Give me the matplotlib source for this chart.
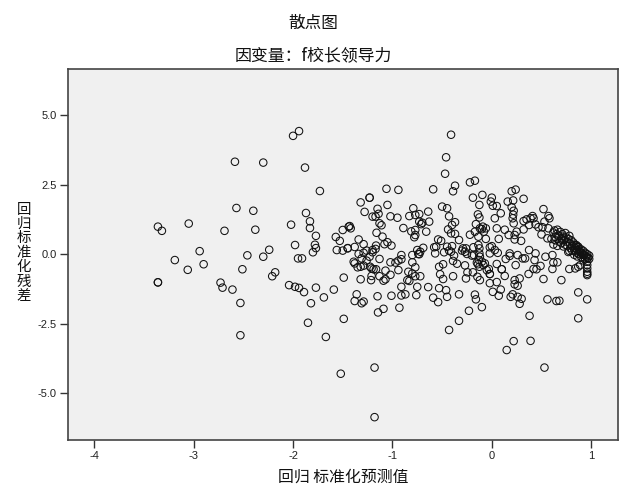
import matplotlib
matplotlib.use('Agg')
from matplotlib import pyplot as plt

plt.rcParams['font.family'] = ['Liberation Sans', 'DejaVu Sans']
plt.rcParams['axes.unicode_minus'] = False

# (predicted, residual), going roughly left to right
points = [
    (-3.36,0.99),(-3.32,0.84),(-3.36,-1.01),(-3.36,-1.01),(-3.19,-0.21),(-3.06,-0.56),(-3.05,1.10),
    (-2.94,0.11),(-2.90,-0.36),(-2.73,-1.02),(-2.71,-1.20),(-2.69,0.84),(-2.61,-1.27),(-2.585,3.32),
    (-2.57,1.66),(-2.53,-1.75),(-2.53,-2.91),(-2.51,-0.54),(-2.46,-0.04),(-2.40,1.56),(-2.38,0.88),
    (-2.30,3.29),(-2.30,-0.09),(-2.24,0.16),(-2.21,-0.79),(-2.18,-0.65),(-2.04,-1.11),(-2.02,1.06),
    (-2.00,4.25),(-1.98,0.33),(-1.98,-1.17),(-1.95,-0.15),(-1.94,4.42),(-1.94,-1.21),(-1.91,-0.15),
    (-1.89,-1.36),(-1.88,3.11),(-1.87,1.48),(-1.85,-2.46),(-1.83,1.18),(-1.83,0.94),(-1.82,-1.76),
    (-1.80,0.07),(-1.78,0.34),(-1.77,0.66),(-1.77,0.22),(-1.77,-1.20),(-1.73,2.27),(-1.69,-1.55),
    (-1.67,-2.97),(-1.59,-1.27),(-1.57,0.62),(-1.56,0.15),(-1.53,0.48),(-1.52,-4.29),(-1.50,0.87),
    (-1.50,0.13),(-1.49,-0.84),(-1.49,-2.32),(-1.45,0.22),(-1.45,0.21),(-1.44,0.99),(-1.43,1.01),
    (-1.42,0.93),(-1.39,-0.27),(-1.38,-0.33),(-1.38,0.26),(-1.38,-1.68),(-1.36,-1.44),(-1.35,-0.47),
    (-1.34,0.53),(-1.34,0.01),(-1.32,1.86),(-1.32,-0.45),(-1.32,-0.90),(-1.31,-0.15),(-1.31,-1.76),
    (-1.29,0.36),(-1.29,0.05),(-1.29,-0.41),(-1.29,-1.70),(-1.28,1.52),(-1.26,0.13),(-1.26,-0.23),
    (-1.23,2.03),(-1.23,2.03),(-1.23,-0.09),(-1.225,-0.45),(-1.215,-0.93),(-1.21,-0.51),(-1.21,-0.78),
    (-1.20,1.35),(-1.20,0.15),(-1.20,0.07),(-1.19,-0.54),(-1.18,-4.07),(-1.18,-5.85),(-1.17,1.35),
    (-1.17,0.19),(-1.165,0.31),(-1.165,-0.54),(-1.16,0.77),(-1.15,1.63),(-1.15,-1.51),(-1.145,-2.09),
    (-1.14,1.45),(-1.13,1.11),(-1.13,-0.17),(-1.13,-0.79),(-1.11,1.04),(-1.10,0.63),(-1.09,-0.95),
    (-1.09,-1.96),(-1.08,0.36),(-1.07,-0.59),(-1.07,-0.90),(-1.06,2.35),(-1.05,1.77),(-1.05,0.43),
    (-1.02,1.36),(-1.02,-0.29),(-1.02,-0.74),(-1.01,0.31),(-1.01,-1.49),(-0.97,-0.30),(-0.95,1.31),
    (-0.94,2.31),(-0.94,-0.23),(-0.94,-0.57),(-0.93,-1.92),(-0.91,-0.03),(-0.91,-0.18),(-0.91,-1.17),
    (-0.91,-1.48),(-0.89,0.94),(-0.87,-1.44),(-0.85,-0.93),(-0.84,-0.63),(-0.83,1.37),(-0.83,-0.96),
    (-0.81,0.82),(-0.80,-0.03),(-0.80,-0.29),(-0.80,-0.69),(-0.79,1.65),(-0.78,0.61),(-0.77,1.41),
    (-0.77,0.87),(-0.77,0.69),(-0.77,-0.47),(-0.77,-0.79),(-0.76,-1.47),(-0.75,0.15),(-0.75,-1.17),
    (-0.74,0.01),(-0.73,1.44),(-0.73,1.17),(-0.73,0.0),(-0.72,0.09),(-0.72,-0.79),(-0.71,1.08),
    (-0.70,1.13),(-0.69,0.23),(-0.66,0.81),(-0.64,1.53),(-0.64,-1.18),(-0.63,1.17),(-0.59,2.33),
    (-0.59,-1.56),(-0.58,0.25),(-0.57,0.03),(-0.56,0.27),(-0.54,0.53),(-0.54,-1.72),(-0.53,-0.45),
    (-0.53,-1.22),(-0.52,-0.72),(-0.51,0.48),(-0.50,1.71),(-0.49,-0.36),(-0.49,-0.89),(-0.48,0.07),
    (-0.47,2.89),(-0.46,3.48),(-0.46,-1.29),(-0.45,1.65),(-0.45,0.27),(-0.45,-1.53),(-0.44,0.89),
    (-0.43,1.36),(-0.43,0.13),(-0.43,-2.72),(-0.41,4.29),(-0.41,0.75),(-0.41,0.09),(-0.40,1.05),
    (-0.40,0.29),(-0.39,2.26),(-0.39,-0.24),(-0.39,-0.79),(-0.38,-0.05),(-0.37,2.46),(-0.37,1.15),
    (-0.37,0.73),(-0.35,-0.34),(-0.33,0.51),(-0.33,-1.44),(-0.33,-2.39),(-0.30,0.13),(-0.29,0.21),
    (-0.27,0.09),(-0.27,-0.40),(-0.26,0.21),(-0.26,-0.87),(-0.25,0.01),(-0.245,-0.65),(-0.23,-2.03),
    (-0.22,2.58),(-0.22,0.70),(-0.20,-0.05),(-0.19,2.03),(-0.19,-0.65),(-0.185,0.25),(-0.18,-0.03),
    (-0.17,2.64),(-0.17,0.81),(-0.17,-1.45),(-0.16,1.08),(-0.16,-1.62),(-0.15,-0.30),(-0.145,-0.81),
    (-0.14,1.43),(-0.14,-0.36),(-0.135,0.63),(-0.135,0.33),(-0.13,-0.21),(-0.125,1.77),(-0.125,1.32),
    (-0.125,0.21),(-0.125,0.03),(-0.125,-0.45),(-0.12,0.93),(-0.12,-0.09),(-0.12,-0.93),(-0.10,0.90),
    (-0.10,-0.27),(-0.10,-1.90),(-0.095,2.13),(-0.09,0.99),(-0.085,-0.39),(-0.08,0.81),(-0.07,-0.33),
    (-0.06,0.93),(-0.06,0.55),(-0.05,-0.57),(-0.03,-0.53),(-0.02,0.25),(-0.02,0.03),(-0.02,-0.71),
    (-0.02,-0.71),(-0.02,-1.04),(-0.01,1.89),(0.0,2.03),(0.0,0.29),(0.01,1.74),(0.01,-1.35),
    (0.03,1.29),(0.03,0.15),(0.05,1.73),(0.05,0.93),(0.05,-0.35),(0.05,-1.00),(0.06,0.05),
    (0.07,0.55),(0.07,-1.49),(0.09,1.47),(0.09,-1.27),(0.10,-0.54),(0.10,-0.54),(0.13,0.88),
    (0.13,-0.78),(0.14,-0.17),(0.15,-3.44),(0.16,1.89),(0.17,0.69),(0.18,0.03),(0.18,-0.06),
    (0.19,-1.53),(0.20,2.26),(0.20,1.69),(0.21,1.29),(0.21,-1.44),(0.215,1.93),(0.215,1.42),
    (0.22,1.56),(0.22,1.11),(0.22,-3.12),(0.23,0.69),(0.23,0.53),(0.23,-0.93),(0.23,-1.08),
    (0.24,2.32),(0.24,-0.39),(0.25,0.81),(0.26,-0.03),(0.26,-1.13),(0.26,-1.53),(0.28,-0.87),
    (0.28,-1.78),(0.295,0.48),(0.30,-1.60),(0.31,-0.15),(0.32,1.99),(0.32,1.19),(0.32,0.89),
    (0.335,-0.15),(0.35,1.25),(0.37,-0.71),(0.375,1.05),(0.375,0.15),(0.38,-2.21),(0.39,1.29),
    (0.39,-3.11),(0.41,1.37),(0.42,1.29),(0.42,-0.53),(0.43,-0.21),(0.44,1.07),(0.44,0.03),
    (0.45,-0.54),(0.47,0.97),(0.49,-0.42),(0.50,0.71),(0.51,0.97),(0.52,1.62),(0.52,-0.89),
    (0.53,1.17),(0.53,-4.07),(0.54,-0.09),(0.56,0.57),(0.56,-1.62),(0.57,1.37),(0.57,0.93),
    (0.58,1.29),(0.60,0.55),(0.61,-0.03),(0.61,-0.53),(0.62,0.78),(0.62,0.35),(0.62,-0.30),
    (0.63,0.85),(0.64,0.62),(0.65,0.72),(0.65,-1.68),(0.66,0.88),(0.66,0.30),(0.66,-0.29),
    (0.67,0.66),(0.68,-1.67),(0.69,0.80),(0.70,0.58),(0.70,0.40),(0.70,-0.93),(0.71,0.72),
    (0.72,0.63),(0.72,0.28),(0.73,0.50),(0.74,0.76),(0.75,0.60),(0.76,0.44),(0.77,0.55),
    (0.77,0.08),(0.78,0.66),(0.78,0.12),(0.78,-0.53),(0.79,0.38),(0.80,0.50),(0.81,0.29),
    (0.82,0.42),(0.83,0.34),(0.83,-0.02),(0.84,0.22),(0.84,-0.51),(0.85,0.33),(0.85,0.30),
    (0.86,0.14),(0.86,0.26),(0.86,-0.08),(0.87,0.27),(0.87,-0.45),(0.87,-1.37),(0.87,-2.30),
    (0.88,0.19),(0.88,0.10),(0.88,0.0),(0.89,0.07),(0.89,-0.39),(0.90,0.17),(0.90,0.05),
    (0.91,0.02),(0.92,0.12),(0.92,-0.02),(0.93,-0.03),(0.94,0.05),(0.95,-0.08),(0.96,0.0),
    (0.96,-0.15),(0.96,-0.27),(0.96,-0.39),(0.96,-0.51),(0.96,-0.63),(0.96,-0.75),(0.96,-1.62),
    (0.97,-0.12),(0.98,-0.05),(0.98,-0.17),
    # thicker part of the tail
    (0.64,0.50),(0.68,0.45),(0.71,0.52),(0.74,0.34),(0.76,0.30),(0.79,0.22),(0.81,0.12),
    (0.83,0.15),(0.85,0.06),(0.87,0.02),(0.90,-0.10),(0.92,-0.22),(0.94,-0.18),(0.96,-0.70),
]
x_vals = [p[0] for p in points]
y_vals = [p[1] for p in points]

x_ticks = [-4, -3, -2, -1, 0, 1]
y_ticks = [-5.0, -2.5, 0.0, 2.5, 5.0]
title = '散点图'
subtitle = '因变量：f校长领导力'
x_label = '回归 标准化预测值'
y_label = '回归标准化残差'

cjk = ['Noto Sans CJK SC', 'DejaVu Sans']

fig = plt.figure(figsize=(6.26, 5.01), dpi=100)
ax = fig.add_axes([67.5/626, 61/501, 550.5/626, 371/501])
ax.set_facecolor('#f0f0f0')
ax.scatter(x_vals, y_vals, s=29, facecolors='none', edgecolors='#111111', linewidths=0.75, clip_on=False)

ax.set_xlim(-4.27, 1.27)
ax.set_ylim(-6.67, 6.65)
ax.set_xticks(x_ticks)
ax.set_xticklabels([str(t) for t in x_ticks])
ax.set_yticks(y_ticks)
ax.set_yticklabels(['%.1f' % t for t in y_ticks])
ax.tick_params(direction='out', length=6, width=1, color='#333333', labelsize=8, labelcolor='#222222', pad=2)
for side in ax.spines:
    ax.spines[side].set_color('#444444')
    ax.spines[side].set_linewidth(1.2)

fig.text(313/626, 1-23/501, title, family=cjk, fontsize=12, ha='center', va='center', color='#111111')
fig.text(313/626, 1-55/501, subtitle, family=cjk, fontsize=12.2, ha='center', va='center', color='#111111')
fig.text(343/626, 1-477/501, x_label, family=cjk, fontsize=11.4, ha='center', va='center', color='#111111')
# the y label is stacked upright, one character at a time
for i, ch in enumerate(y_label):
    fig.text(24/626, 1-(209.5+14.4*i)/501, ch, family=cjk, fontsize=10.4, ha='center', va='center', color='#111111')

fig.savefig('out.png', dpi=100)
